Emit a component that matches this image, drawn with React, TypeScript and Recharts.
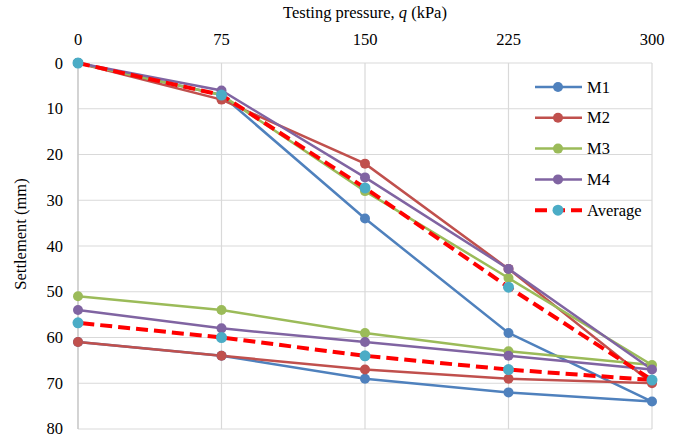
import { LineChart, Line, XAxis, YAxis, CartesianGrid } from "recharts";

// loading 0 -> 300 kPa, then unloading back to 0
const pressure = [0, 75, 150, 225, 300, 225, 150, 75, 0];
const m1 = [0, 7, 34, 59, 74, 72, 69, 64, 61];
const m2 = [0, 8, 22, 45, 70, 69, 67, 64, 61];
const m3 = [0, 7, 28, 47, 66, 63, 59, 54, 51];
const m4 = [0, 6, 25, 45, 67, 64, 61, 58, 54];
const average = [0, 7, 27.3, 49, 69.3, 67, 64, 60, 56.8];

const xTicks = [0, 75, 150, 225, 300];
const yTicks = [0, 10, 20, 30, 40, 50, 60, 70, 80];

const data = pressure.map((q, i) => ({
  q,
  M1: m1[i],
  M2: m2[i],
  M3: m3[i],
  M4: m4[i],
  Average: average[i],
}));

const FONT = "Liberation Serif";

const series = [
  { key: "M1", color: "#4F81BD" },
  { key: "M2", color: "#C0504D" },
  { key: "M3", color: "#9BBB59" },
  { key: "M4", color: "#8064A2" },
];

function XTick(props: any) {
  const { x, y, payload } = props;
  return (
    <text x={x} y={y - 18} textAnchor="middle" fontSize={16.5} style={{ fontFamily: FONT }} fill="#000">
      {payload.value}
    </text>
  );
}

function YTick(props: any) {
  const { x, y, payload } = props;
  return (
    <text x={x - 15} y={y + 5.5} textAnchor="end" fontSize={16.5} style={{ fontFamily: FONT }} fill="#000">
      {payload.value}
    </text>
  );
}

function LegendBox() {
  const rows = [...series.map(s => s.key), "Average"];
  return (
    <svg width={130} height={150} style={{ position: "absolute", left: 533, top: 77 }}>
      {rows.map((k, i) => {
        const y = 10 + i * 30.8;
        const s = series.find(d => d.key === k);
        return (
          <g key={k}>
            {s ? (
              <>
                <line x1={2} x2={49} y1={y} y2={y} stroke={s.color} strokeWidth={2.5} />
                <circle cx={25} cy={y} r={5} fill={s.color} />
              </>
            ) : (
              <>
                <line x1={2} x2={49} y1={y} y2={y} stroke="#FF0000" strokeWidth={4} strokeDasharray="12 6" />
                <circle cx={25} cy={y} r={5.5} fill="#4BACC6" />
              </>
            )}
            <text x={54} y={y + 5.5} fontSize={16.5} style={{ fontFamily: FONT }} fill="#000">{k}</text>
          </g>
        );
      })}
    </svg>
  );
}

export default function App() {
  return (
    <div style={{ position: "absolute", left: 0, top: 0, width: 680, height: 437, background: "#fff", fontFamily: FONT }}>
      <LineChart
        width={680}
        height={437}
        data={data}
        margin={{ top: 33, right: 28, bottom: 8, left: 28 }}
      >
        <CartesianGrid stroke="#d9d9d9" strokeWidth={1.2} />
        <XAxis
          dataKey="q"
          type="number"
          orientation="top"
          domain={[0, 300]}
          ticks={xTicks}
          height={30}
          tickLine={false}
          axisLine={false}
          tick={<XTick />}
          tickSize={0}
          tickMargin={0}
        />
        <YAxis
          reversed
          domain={[0, 80]}
          ticks={yTicks}
          width={50}
          tickLine={false}
          axisLine={{ stroke: "#bfbfbf" }}
          tick={<YTick />}
          tickSize={0}
          tickMargin={0}
        />
        {series.map(s => (
          <Line
            key={s.key}
            dataKey={s.key}
            stroke={s.color}
            strokeWidth={2.5}
            dot={{ r: 5, fill: s.color, stroke: s.color, strokeWidth: 0 }}
            isAnimationActive={false}
          />
        ))}
        <Line
          dataKey="Average"
          stroke="#FF0000"
          strokeWidth={4}
          strokeDasharray="12 6"
          dot={{ r: 5.5, fill: "#4BACC6", stroke: "#4BACC6", strokeWidth: 0 }}
          isAnimationActive={false}
        />
        <text x={365} y={18} textAnchor="middle" fontSize={16.5} style={{ fontFamily: FONT }} fill="#000">
          Testing pressure, <tspan fontStyle="italic">q</tspan> (kPa)
        </text>
        <text
          x={0}
          y={0}
          transform="translate(26, 234) rotate(-90)"
          textAnchor="middle"
          fontSize={16.5}
          style={{ fontFamily: FONT }}
          fill="#000"
        >
          Settlement (mm)
        </text>
      </LineChart>
      <LegendBox />
    </div>
  );
}
